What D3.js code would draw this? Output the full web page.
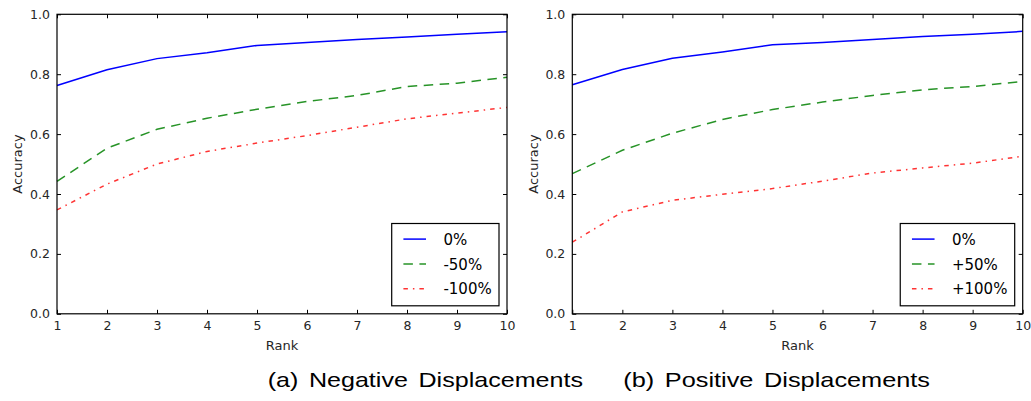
<!DOCTYPE html>
<html>
<head>
<meta charset="utf-8">
<script src="https://cdn.jsdelivr.net/npm/d3@7"></script>
<style>
  html, body { margin: 0; padding: 0; background: #fff; }
  svg { display: block; }
</style>
</head>
<body>
<svg id="chart" width="1031" height="401"></svg>
<script>
const ranks = [1, 2, 3, 4, 5, 6, 7, 8, 9, 10];
const yTicks = [0.0, 0.2, 0.4, 0.6, 0.8, 1.0];

// Panel (a): negative displacements
const negLabels = ["0%", "-50%", "-100%"];
const neg0   = [0.762, 0.815, 0.852, 0.872, 0.896, 0.906, 0.916, 0.924, 0.933, 0.942];
const neg50  = [0.442, 0.553, 0.616, 0.653, 0.683, 0.709, 0.729, 0.759, 0.770, 0.790];
const neg100 = [0.347, 0.433, 0.500, 0.542, 0.570, 0.595, 0.623, 0.651, 0.670, 0.689];

// Panel (b): positive displacements
const posLabels = ["0%", "+50%", "+100%"];
const pos0   = [0.765, 0.816, 0.853, 0.874, 0.898, 0.906, 0.916, 0.926, 0.933, 0.943];
const pos50  = [0.468, 0.546, 0.603, 0.649, 0.682, 0.707, 0.729, 0.748, 0.759, 0.776];
const pos100 = [0.239, 0.340, 0.379, 0.399, 0.418, 0.443, 0.470, 0.487, 0.503, 0.526];

const captions = ["(a) Negative Displacements", "(b) Positive Displacements"];

const styles = [
  { color: "#0000ff", dash: null, opacity: 1 },
  { color: "#008000", dash: "9.5,6.5", opacity: 0.85 },
  { color: "#ff0000", dash: "4.5,5,1.5,5", opacity: 0.8 }
];

const svg = d3.select("#chart");
const tickColor = "#262626";
const tickFont = "DejaVu Sans, sans-serif";

function panel(x0, x1, y0, y1, seriesList, labels, accX) {
  const x = d3.scaleLinear().domain([1, 10]).range([x0, x1]);
  const y = d3.scaleLinear().domain([0, 1]).range([y1, y0]);
  const g = svg.append("g");

  const axB = d3.axisBottom(x).tickValues(ranks).tickSize(-4).tickPadding(7).tickFormat(d3.format("d"));
  const axT = d3.axisTop(x).tickValues(ranks).tickSize(-4).tickFormat("");
  const axL = d3.axisLeft(y).tickValues(yTicks).tickSize(-4).tickPadding(7).tickFormat(d3.format(".1f"));
  const axR = d3.axisRight(y).tickValues(yTicks).tickSize(-4).tickFormat("");

  const gb = g.append("g").attr("transform", `translate(0,${y1})`).call(axB);
  const gt = g.append("g").attr("transform", `translate(0,${y0})`).call(axT);
  const gl = g.append("g").attr("transform", `translate(${x0},0)`).call(axL);
  const gr = g.append("g").attr("transform", `translate(${x1},0)`).call(axR);
  [gb, gt, gl, gr].forEach(a => {
    a.attr("font-family", tickFont).attr("font-size", 12.5);
    a.select(".domain").remove();
    a.selectAll(".tick line").attr("stroke", "#000").attr("stroke-width", 1);
    a.selectAll(".tick text").attr("fill", tickColor);
  });

  const line = d3.line().x((d, i) => x(ranks[i])).y(d => y(d));
  seriesList.forEach((s, i) => {
    g.append("path").datum(s)
      .attr("d", line)
      .attr("fill", "none")
      .attr("stroke", styles[i].color)
      .attr("stroke-opacity", styles[i].opacity)
      .attr("stroke-width", 1.5)
      .attr("stroke-dasharray", styles[i].dash);
  });

  g.append("rect").attr("x", x0).attr("y", y0).attr("width", x1 - x0).attr("height", y1 - y0)
    .attr("fill", "none").attr("stroke", "#000").attr("stroke-width", 1.2);

  g.append("text").attr("x", (x0 + x1) / 2).attr("y", 350).attr("text-anchor", "middle")
    .attr("font-family", tickFont).attr("font-size", 13).attr("fill", tickColor).text("Rank");
  g.append("text").attr("transform", `translate(${accX},${(y0 + y1) / 2}) rotate(-90)`)
    .attr("text-anchor", "middle").attr("font-family", tickFont).attr("font-size", 13)
    .attr("fill", tickColor).text("Accuracy");

  const lg = g.append("g");
  const box = lg.append("rect").attr("fill", "#fff").attr("stroke", "#000").attr("stroke-width", 1.2);
  const rowsY = [15.6, 40.6, 65.3];
  let maxW = 0;
  labels.forEach((lab, i) => {
    lg.append("line").attr("x1", 11.7).attr("x2", 34.3).attr("y1", rowsY[i]).attr("y2", rowsY[i])
      .attr("stroke", styles[i].color).attr("stroke-opacity", styles[i].opacity)
      .attr("stroke-width", 1.5).attr("stroke-dasharray", styles[i].dash);
    const t = lg.append("text").attr("x", 51.7).attr("y", rowsY[i]).attr("dy", "0.36em")
      .attr("font-family", tickFont).attr("font-size", 15).attr("fill", "#000").text(lab);
    maxW = Math.max(maxW, t.node().getComputedTextLength());
  });
  const bw = 51.7 + maxW + 7.3, bh = 82.3;
  box.attr("x", 0).attr("y", 0).attr("width", bw).attr("height", bh);
  lg.attr("transform", `translate(${x1 - 8 - bw},${y1 - 8 - bh})`);
}

panel(57, 507, 14.3, 313.8, [neg0, neg50, neg100], negLabels, 22);
panel(572.3, 1022.7, 14.3, 313.8, [pos0, pos50, pos100], posLabels, 537.5);

const capX = [[267.7, 583], [623.3, 930]];
captions.forEach((c, i) => {
  svg.append("text").attr("x", capX[i][0]).attr("y", 387)
    .attr("font-family", "Liberation Sans, Arial, sans-serif").attr("font-size", 21)
    .attr("fill", "#000").attr("word-spacing", 3)
    .attr("textLength", capX[i][1] - capX[i][0]).attr("lengthAdjust", "spacingAndGlyphs")
    .text(c);
});
</script>
</body>
</html>
